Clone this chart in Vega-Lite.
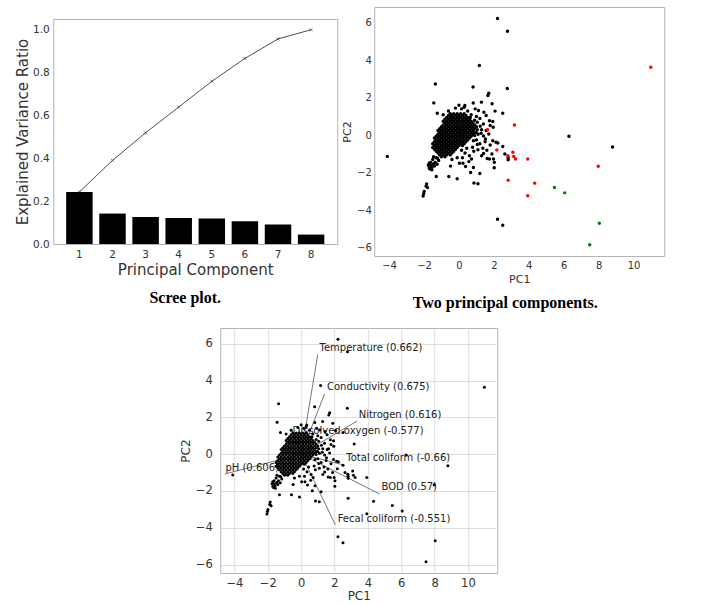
{
"$schema":"https://vega.github.io/schema/vega-lite/v6.json",
"background":"white",
"padding":{"left":15,"top":6,"right":5,"bottom":5},
"config":{
"font":"DejaVu Sans",
"view":{"stroke":"#b3b3b3","strokeWidth":1},
"axis":{"domain":false,"ticks":false,"grid":false,"labelColor":"#333333","titleColor":"#333333","titleFontWeight":"normal","labelFont":"DejaVu Sans","titleFont":"DejaVu Sans","labelOverlap":false},
"title":{"font":"Liberation Serif","fontWeight":"bold","fontSize":16,"color":"black"}
},
"datasets":{
"scree":[
{"pc":"1","ratio":0.243,"cum":0.243},{"pc":"2","ratio":0.142,"cum":0.390},{"pc":"3","ratio":0.126,"cum":0.519},{"pc":"4","ratio":0.121,"cum":0.639},
{"pc":"5","ratio":0.119,"cum":0.759},{"pc":"6","ratio":0.106,"cum":0.866},{"pc":"7","ratio":0.091,"cum":0.957},{"pc":"8","ratio":0.044,"cum":1.0}],
"load":[
{"label":"Temperature (0.662)","tx":1.0,"ty":5.42,"lx":1.1,"ly":5.78},
{"label":"Conductivity (0.675)","tx":1.41,"ty":3.29,"lx":1.55,"ly":3.66},
{"label":"Nitrogen (0.616)","tx":3.35,"ty":1.8,"lx":3.45,"ly":2.11},
{"label":"Dissolved oxygen (-0.577)","tx":-0.6,"ty":1.4,"lx":-0.52,"ly":1.25},
{"label":"Total coliform (-0.66)","tx":2.61,"ty":-0.6,"lx":2.71,"ly":-0.23},
{"label":"BOD (0.57)","tx":4.72,"ty":-2.17,"lx":4.82,"ly":-1.8},
{"label":"Fecal coliform (-0.551)","tx":2.05,"ty":-3.83,"lx":2.19,"ly":-3.52},
{"label":"pH (0.606)","tx":-4.58,"ty":-1.08,"lx":-4.54,"ly":-0.74}],
"pts":[
{"x":-0.5,"y":1.15,"c":"k"},{"x":-0.3,"y":1.15,"c":"k"},{"x":-0.1,"y":1.15,"c":"k"},{"x":0.1,"y":1.15,"c":"k"},{"x":0.3,"y":1.15,"c":"k"},
{"x":-0.6,"y":1.05,"c":"k"},{"x":-0.4,"y":1.05,"c":"k"},{"x":-0.2,"y":1.05,"c":"k"},{"x":0,"y":1.05,"c":"k"},{"x":0.2,"y":1.05,"c":"k"},{"x":0.4,"y":1.05,"c":"k"},
{"x":-0.7,"y":0.95,"c":"k"},{"x":-0.5,"y":0.95,"c":"k"},{"x":-0.3,"y":0.95,"c":"k"},{"x":-0.1,"y":0.95,"c":"k"},{"x":0.1,"y":0.95,"c":"k"},{"x":0.3,"y":0.95,"c":"k"},{"x":0.5,"y":0.95,"c":"k"},
{"x":-0.8,"y":0.85,"c":"k"},{"x":-0.6,"y":0.85,"c":"k"},{"x":-0.4,"y":0.85,"c":"k"},{"x":-0.2,"y":0.85,"c":"k"},{"x":0,"y":0.85,"c":"k"},{"x":0.2,"y":0.85,"c":"k"},{"x":0.4,"y":0.85,"c":"k"},{"x":0.6,"y":0.85,"c":"k"},
{"x":-0.9,"y":0.75,"c":"k"},{"x":-0.7,"y":0.75,"c":"k"},{"x":-0.5,"y":0.75,"c":"k"},{"x":-0.3,"y":0.75,"c":"k"},{"x":-0.1,"y":0.75,"c":"k"},{"x":0.1,"y":0.75,"c":"k"},{"x":0.3,"y":0.75,"c":"k"},{"x":0.5,"y":0.75,"c":"k"},{"x":0.7,"y":0.75,"c":"k"},
{"x":-0.8,"y":0.65,"c":"k"},{"x":-0.6,"y":0.65,"c":"k"},{"x":-0.4,"y":0.65,"c":"k"},{"x":-0.2,"y":0.65,"c":"k"},{"x":0,"y":0.65,"c":"k"},{"x":0.2,"y":0.65,"c":"k"},{"x":0.4,"y":0.65,"c":"k"},{"x":0.6,"y":0.65,"c":"k"},{"x":0.8,"y":0.65,"c":"k"},
{"x":-0.9,"y":0.55,"c":"k"},{"x":-0.7,"y":0.55,"c":"k"},{"x":-0.5,"y":0.55,"c":"k"},{"x":-0.3,"y":0.55,"c":"k"},{"x":-0.1,"y":0.55,"c":"k"},{"x":0.1,"y":0.55,"c":"k"},{"x":0.3,"y":0.55,"c":"k"},{"x":0.5,"y":0.55,"c":"k"},{"x":0.7,"y":0.55,"c":"k"},{"x":0.9,"y":0.55,"c":"k"},
{"x":-1.0,"y":0.45,"c":"k"},{"x":-0.8,"y":0.45,"c":"k"},{"x":-0.6,"y":0.45,"c":"k"},{"x":-0.4,"y":0.45,"c":"k"},{"x":-0.2,"y":0.45,"c":"k"},{"x":0,"y":0.45,"c":"k"},{"x":0.2,"y":0.45,"c":"k"},{"x":0.4,"y":0.45,"c":"k"},{"x":0.6,"y":0.45,"c":"k"},{"x":0.8,"y":0.45,"c":"k"},{"x":1.0,"y":0.45,"c":"k"},
{"x":-1.1,"y":0.35,"c":"k"},{"x":-0.9,"y":0.35,"c":"k"},{"x":-0.7,"y":0.35,"c":"k"},{"x":-0.5,"y":0.35,"c":"k"},{"x":-0.3,"y":0.35,"c":"k"},{"x":-0.1,"y":0.35,"c":"k"},{"x":0.1,"y":0.35,"c":"k"},{"x":0.3,"y":0.35,"c":"k"},{"x":0.5,"y":0.35,"c":"k"},{"x":0.7,"y":0.35,"c":"k"},{"x":0.9,"y":0.35,"c":"k"},
{"x":-1.2,"y":0.25,"c":"k"},{"x":-1.0,"y":0.25,"c":"k"},{"x":-0.8,"y":0.25,"c":"k"},{"x":-0.6,"y":0.25,"c":"k"},{"x":-0.4,"y":0.25,"c":"k"},{"x":-0.2,"y":0.25,"c":"k"},{"x":0,"y":0.25,"c":"k"},{"x":0.2,"y":0.25,"c":"k"},{"x":0.4,"y":0.25,"c":"k"},{"x":0.6,"y":0.25,"c":"k"},{"x":0.8,"y":0.25,"c":"k"},
{"x":-1.1,"y":0.15,"c":"k"},{"x":-0.9,"y":0.15,"c":"k"},{"x":-0.7,"y":0.15,"c":"k"},{"x":-0.5,"y":0.15,"c":"k"},{"x":-0.3,"y":0.15,"c":"k"},{"x":-0.1,"y":0.15,"c":"k"},{"x":0.1,"y":0.15,"c":"k"},{"x":0.3,"y":0.15,"c":"k"},{"x":0.5,"y":0.15,"c":"k"},{"x":0.7,"y":0.15,"c":"k"},{"x":0.9,"y":0.15,"c":"k"},
{"x":-1.2,"y":0.05,"c":"k"},{"x":-1.0,"y":0.05,"c":"k"},{"x":-0.8,"y":0.05,"c":"k"},{"x":-0.6,"y":0.05,"c":"k"},{"x":-0.4,"y":0.05,"c":"k"},{"x":-0.2,"y":0.05,"c":"k"},{"x":0,"y":0.05,"c":"k"},{"x":0.2,"y":0.05,"c":"k"},{"x":0.4,"y":0.05,"c":"k"},{"x":0.6,"y":0.05,"c":"k"},{"x":0.8,"y":0.05,"c":"k"},
{"x":-1.3,"y":-0.05,"c":"k"},{"x":-1.1,"y":-0.05,"c":"k"},{"x":-0.9,"y":-0.05,"c":"k"},{"x":-0.7,"y":-0.05,"c":"k"},{"x":-0.5,"y":-0.05,"c":"k"},{"x":-0.3,"y":-0.05,"c":"k"},{"x":-0.1,"y":-0.05,"c":"k"},{"x":0.1,"y":-0.05,"c":"k"},{"x":0.3,"y":-0.05,"c":"k"},{"x":0.5,"y":-0.05,"c":"k"},{"x":0.7,"y":-0.05,"c":"k"},
{"x":-1.4,"y":-0.15,"c":"k"},{"x":-1.2,"y":-0.15,"c":"k"},{"x":-1.0,"y":-0.15,"c":"k"},{"x":-0.8,"y":-0.15,"c":"k"},{"x":-0.6,"y":-0.15,"c":"k"},{"x":-0.4,"y":-0.15,"c":"k"},{"x":-0.2,"y":-0.15,"c":"k"},{"x":0,"y":-0.15,"c":"k"},{"x":0.2,"y":-0.15,"c":"k"},{"x":0.4,"y":-0.15,"c":"k"},{"x":0.6,"y":-0.15,"c":"k"},
{"x":-1.3,"y":-0.25,"c":"k"},{"x":-1.1,"y":-0.25,"c":"k"},{"x":-0.9,"y":-0.25,"c":"k"},{"x":-0.7,"y":-0.25,"c":"k"},{"x":-0.5,"y":-0.25,"c":"k"},{"x":-0.3,"y":-0.25,"c":"k"},{"x":-0.1,"y":-0.25,"c":"k"},{"x":0.1,"y":-0.25,"c":"k"},{"x":0.3,"y":-0.25,"c":"k"},{"x":0.5,"y":-0.25,"c":"k"},
{"x":-1.4,"y":-0.35,"c":"k"},{"x":-1.2,"y":-0.35,"c":"k"},{"x":-1.0,"y":-0.35,"c":"k"},{"x":-0.8,"y":-0.35,"c":"k"},{"x":-0.6,"y":-0.35,"c":"k"},{"x":-0.4,"y":-0.35,"c":"k"},{"x":-0.2,"y":-0.35,"c":"k"},{"x":0,"y":-0.35,"c":"k"},{"x":0.2,"y":-0.35,"c":"k"},{"x":0.4,"y":-0.35,"c":"k"},
{"x":-1.5,"y":-0.45,"c":"k"},{"x":-1.3,"y":-0.45,"c":"k"},{"x":-1.1,"y":-0.45,"c":"k"},{"x":-0.9,"y":-0.45,"c":"k"},{"x":-0.7,"y":-0.45,"c":"k"},{"x":-0.5,"y":-0.45,"c":"k"},{"x":-0.3,"y":-0.45,"c":"k"},{"x":-0.1,"y":-0.45,"c":"k"},{"x":0.1,"y":-0.45,"c":"k"},{"x":0.3,"y":-0.45,"c":"k"},
{"x":-1.4,"y":-0.55,"c":"k"},{"x":-1.2,"y":-0.55,"c":"k"},{"x":-1.0,"y":-0.55,"c":"k"},{"x":-0.8,"y":-0.55,"c":"k"},{"x":-0.6,"y":-0.55,"c":"k"},{"x":-0.4,"y":-0.55,"c":"k"},{"x":-0.2,"y":-0.55,"c":"k"},{"x":0,"y":-0.55,"c":"k"},{"x":0.2,"y":-0.55,"c":"k"},
{"x":-1.5,"y":-0.65,"c":"k"},{"x":-1.3,"y":-0.65,"c":"k"},{"x":-1.1,"y":-0.65,"c":"k"},{"x":-0.9,"y":-0.65,"c":"k"},{"x":-0.7,"y":-0.65,"c":"k"},{"x":-0.5,"y":-0.65,"c":"k"},{"x":-0.3,"y":-0.65,"c":"k"},{"x":-0.1,"y":-0.65,"c":"k"},
{"x":-1.4,"y":-0.75,"c":"k"},{"x":-1.2,"y":-0.75,"c":"k"},{"x":-1.0,"y":-0.75,"c":"k"},{"x":-0.8,"y":-0.75,"c":"k"},{"x":-0.6,"y":-0.75,"c":"k"},{"x":-0.4,"y":-0.75,"c":"k"},{"x":-0.2,"y":-0.75,"c":"k"},
{"x":-1.3,"y":-0.85,"c":"k"},{"x":-1.1,"y":-0.85,"c":"k"},{"x":-0.9,"y":-0.85,"c":"k"},{"x":-0.7,"y":-0.85,"c":"k"},{"x":-0.5,"y":-0.85,"c":"k"},{"x":-0.3,"y":-0.85,"c":"k"},
{"x":-1.2,"y":-0.95,"c":"k"},{"x":-1.0,"y":-0.95,"c":"k"},{"x":-0.8,"y":-0.95,"c":"k"},{"x":-0.6,"y":-0.95,"c":"k"},{"x":-0.4,"y":-0.95,"c":"k"},
{"x":-1.1,"y":-1.05,"c":"k"},{"x":-0.9,"y":-1.05,"c":"k"},{"x":-0.7,"y":-1.05,"c":"k"},{"x":-0.5,"y":-1.05,"c":"k"},
{"x":-1.0,"y":-1.15,"c":"k"},{"x":-0.8,"y":-1.15,"c":"k"},
{"x":1.2,"y":0.9,"c":"k"},{"x":1.4,"y":0.6,"c":"k"},{"x":1.3,"y":0.3,"c":"k"},{"x":1.1,"y":0.05,"c":"k"},{"x":1.5,"y":-0.35,"c":"k"},{"x":1.2,"y":-0.45,"c":"k"},{"x":1.0,"y":-0.25,"c":"k"},{"x":0.9,"y":0.8,"c":"k"},{"x":1.0,"y":1.0,"c":"k"},{"x":0.7,"y":1.1,"c":"k"},{"x":0.5,"y":1.3,"c":"k"},{"x":0.65,"y":0.95,"c":"k"},{"x":0.3,"y":1.5,"c":"k"},{"x":-0.2,"y":1.45,"c":"k"},{"x":-0.6,"y":1.3,"c":"k"},{"x":0.0,"y":1.6,"c":"k"},{"x":-0.9,"y":1.1,"c":"k"},{"x":1.05,"y":0.3,"c":"k"},{"x":1.05,"y":-0.5,"c":"k"},{"x":0.85,"y":-0.85,"c":"k"},{"x":0.6,"y":-1.1,"c":"k"},{"x":0.35,"y":-0.95,"c":"k"},{"x":0.15,"y":-0.8,"c":"k"},{"x":0.45,"y":-0.7,"c":"k"},{"x":-0.1,"y":-1.2,"c":"k"},{"x":0.2,"y":-1.2,"c":"k"},{"x":-0.4,"y":-1.3,"c":"k"},{"x":1.3,"y":-1.1,"c":"k"},{"x":1.6,"y":-0.8,"c":"k"},
{"x":1.71,"y":2.25,"c":"k"},{"x":1.66,"y":2.13,"c":"k"},{"x":1.29,"y":1.77,"c":"k"},{"x":1.9,"y":1.68,"c":"k"},{"x":0.82,"y":1.72,"c":"k"},{"x":0.34,"y":1.59,"c":"k"},{"x":0.15,"y":1.41,"c":"k"},{"x":0.93,"y":1.41,"c":"k"},{"x":1.12,"y":1.32,"c":"k"},{"x":1.43,"y":1.23,"c":"k"},{"x":1.56,"y":1.05,"c":"k"},{"x":2.07,"y":1.29,"c":"k"},{"x":2.51,"y":1.18,"c":"k"},{"x":1.75,"y":0.78,"c":"k"},{"x":1.94,"y":0.73,"c":"k"},{"x":1.79,"y":0.52,"c":"k"},{"x":1.96,"y":0.43,"c":"k"},{"x":1.05,"y":0.7,"c":"k"},{"x":1.22,"y":0.48,"c":"k"},{"x":0.99,"y":0.15,"c":"k"},{"x":1.27,"y":0.11,"c":"k"},{"x":1.41,"y":-0.04,"c":"k"},{"x":1.56,"y":0.25,"c":"k"},{"x":1.52,"y":-0.2,"c":"k"},{"x":0.9,"y":-0.02,"c":"k"},{"x":0.83,"y":-0.29,"c":"k"},{"x":0.78,"y":-0.64,"c":"k"},{"x":1.37,"y":-0.7,"c":"k"},{"x":1.79,"y":-0.52,"c":"k"},{"x":1.94,"y":-0.29,"c":"k"},{"x":1.71,"y":0.07,"c":"k"},{"x":2.13,"y":-0.38,"c":"k"},
{"x":2.21,"y":6.24,"c":"k"},{"x":2.78,"y":5.56,"c":"k"},{"x":1.17,"y":3.73,"c":"k"},{"x":-1.35,"y":2.74,"c":"k"},{"x":0.81,"y":2.58,"c":"k"},{"x":2.77,"y":2.5,"c":"k"},{"x":-1.44,"y":1.73,"c":"k"},{"x":-1.24,"y":1.18,"c":"k"},{"x":-4.1,"y":-1.13,"c":"k"},{"x":6.3,"y":-0.05,"c":"k"},{"x":8.8,"y":-0.63,"c":"k"},{"x":2.21,"y":-4.49,"c":"k"},{"x":2.51,"y":-4.81,"c":"k"},
{"x":-1.3,"y":-2.21,"c":"k"},{"x":-0.58,"y":-2.2,"c":"k"},{"x":-0.1,"y":-2.32,"c":"k"},{"x":-0.48,"y":-1.65,"c":"k"},{"x":0.03,"y":-1.5,"c":"k"},{"x":0.23,"y":-1.5,"c":"k"},{"x":0.57,"y":-1.41,"c":"k"},{"x":0.38,"y":-1.67,"c":"k"},{"x":0.83,"y":-1.72,"c":"k"},{"x":0.67,"y":-1.99,"c":"k"},{"x":0.86,"y":-2.55,"c":"k"},{"x":1.09,"y":-2.59,"c":"k"},{"x":1.2,"y":-2.04,"c":"k"},{"x":2.02,"y":-1.74,"c":"k"},{"x":1.75,"y":-1.27,"c":"k"},{"x":1.89,"y":-1.0,"c":"k"},{"x":1.98,"y":-1.27,"c":"k"},{"x":2.03,"y":-1.45,"c":"k"},{"x":2.23,"y":-0.41,"c":"k"},{"x":2.51,"y":-0.6,"c":"k"},{"x":2.63,"y":-1.0,"c":"k"},{"x":2.82,"y":-1.31,"c":"k"},{"x":2.82,"y":-1.2,"c":"k"},{"x":1.09,"y":-0.77,"c":"k"},{"x":1.41,"y":-0.97,"c":"k"},{"x":1.62,"y":-1.24,"c":"k"},{"x":0.72,"y":-1.27,"c":"k"},
{"x":-2.05,"y":-3.25,"c":"k"},{"x":-2.02,"y":-3.12,"c":"k"},{"x":-1.99,"y":-3.0,"c":"k"},{"x":-1.88,"y":-2.72,"c":"k"},{"x":-1.85,"y":-2.6,"c":"k"},{"x":-1.8,"y":-2.8,"c":"k"},
{"x":-1.66,"y":-1.81,"c":"k"},{"x":-1.56,"y":-1.72,"c":"k"},{"x":-1.46,"y":-1.54,"c":"k"},{"x":-1.6,"y":-1.62,"c":"k"},{"x":-1.36,"y":-1.45,"c":"k"},{"x":-1.16,"y":-1.35,"c":"k"},{"x":-1.22,"y":-1.23,"c":"k"},{"x":-1.7,"y":-1.75,"c":"k"},{"x":-1.5,"y":-1.3,"c":"k"},{"x":-1.3,"y":-1.2,"c":"k"},{"x":-1.45,"y":-1.15,"c":"k"},{"x":-1.62,"y":-1.45,"c":"k"},{"x":-1.75,"y":-1.6,"c":"k"},{"x":-1.4,"y":-1.65,"c":"k"},{"x":-1.25,"y":-1.55,"c":"k"},{"x":-1.55,"y":-1.85,"c":"k"},{"x":-1.7,"y":-1.5,"c":"k"},
{"x":10.99,"y":3.63,"c":"r"},{"x":7.98,"y":-1.66,"c":"r"},{"x":3.94,"y":-1.27,"c":"r"},{"x":3.18,"y":0.55,"c":"r"},{"x":1.64,"y":0.29,"c":"r"},{"x":2.17,"y":-0.79,"c":"r"},{"x":2.8,"y":-1.09,"c":"r"},{"x":3.09,"y":-0.91,"c":"r"},{"x":3.14,"y":-1.14,"c":"r"},{"x":3.24,"y":-1.27,"c":"r"},{"x":2.82,"y":-2.4,"c":"r"},{"x":4.34,"y":-2.56,"c":"r"},{"x":3.94,"y":-3.24,"c":"r"},
{"x":5.47,"y":-2.79,"c":"g"},{"x":6.06,"y":-3.08,"c":"g"},{"x":8.04,"y":-4.7,"c":"g"},{"x":7.49,"y":-5.85,"c":"g"}
]
},
"center":true,
"spacing":15,
"vconcat":[
{"hconcat":[
{"width":284,"height":225,
"title":{"text":"Scree plot.","orient":"bottom","anchor":"middle","offset":12,"dx":-10},
"data":{"name":"scree"},
"encoding":{"x":{"field":"pc","type":"ordinal","scale":{"paddingInner":0.2,"paddingOuter":0.39},"axis":{"title":"Principal Component","labelAngle":0,"labelFontSize":10.5,"titleFontSize":15,"labelPadding":5,"titlePadding":3}}},
"layer":[
{"mark":{"type":"bar","color":"black"},"encoding":{"y":{"field":"ratio","type":"quantitative","scale":{"domain":[0,1.05],"nice":false,"zero":true},"axis":{"title":"Explained Variance Ratio","values":[0,0.2,0.4,0.6,0.8,1.0],"format":".1f","labelFontSize":10.5,"titleFontSize":15,"labelPadding":4,"titlePadding":2}}}},
{"mark":{"type":"line","color":"#222222","strokeWidth":0.8},"encoding":{"y":{"field":"cum","type":"quantitative"}}},
{"mark":{"type":"point","shape":"M-1,-1L1,1M-1,1L1,-1","size":9,"color":"#222222","strokeWidth":0.8,"filled":false},"encoding":{"y":{"field":"cum","type":"quantitative"}}}
]},
{"width":290,"height":249,
"title":{"text":"Two principal components.","orient":"bottom","anchor":"middle","offset":11,"dx":-14},
"data":{"name":"pts"},
"mark":{"type":"circle","size":12,"opacity":1},
"encoding":{
"x":{"field":"x","type":"quantitative","scale":{"domain":[-4.85,11.76],"nice":false,"zero":false},"axis":{"title":"PC1","values":[-4,-2,0,2,4,6,8,10],"format":"d","labelFontSize":10,"titleFontSize":11,"labelPadding":4,"titlePadding":3,"labelOverlap":false}},
"y":{"field":"y","type":"quantitative","scale":{"domain":[-6.455,6.855],"nice":false,"zero":false},"axis":{"title":"PC2","values":[-6,-4,-2,0,2,4,6],"format":"d","labelFontSize":10,"titleFontSize":11,"labelPadding":3,"titlePadding":4,"labelOverlap":false}},
"color":{"field":"c","type":"nominal","scale":{"domain":["k","r","g"],"range":["black","#ff0000","#008000"]},"legend":null}
}}
],"spacing":37,"bounds":"flush","center":true},
{"width":277,"height":245,
"encoding":{
"x":{"type":"quantitative","scale":{"domain":[-4.85,11.76],"nice":false,"zero":false},"axis":{"title":"PC1","values":[-4,-2,0,2,4,6,8,10],"format":"d","grid":true,"gridColor":"#dddddd","labelFontSize":11.5,"titleFontSize":12,"labelPadding":4,"titlePadding":2,"labelOverlap":false}},
"y":{"type":"quantitative","scale":{"domain":[-6.455,6.855],"nice":false,"zero":false},"axis":{"title":"PC2","values":[-6,-4,-2,0,2,4,6],"format":"d","grid":true,"gridColor":"#dddddd","labelFontSize":11.5,"titleFontSize":12,"labelPadding":8,"titlePadding":3,"labelOverlap":false}}
},
"layer":[
{"data":{"name":"load"},"mark":{"type":"rule","color":"#555555","strokeWidth":0.8},
"encoding":{"x":{"field":"tx","type":"quantitative"},"y":{"field":"ty","type":"quantitative"},"x2":{"datum":0},"y2":{"datum":0}}},
{"data":{"name":"load"},"mark":{"type":"text","align":"left","baseline":"middle","fontSize":10,"color":"#222222","font":"DejaVu Sans"},
"encoding":{"x":{"field":"lx","type":"quantitative"},"y":{"field":"ly","type":"quantitative"},"text":{"field":"label"}}},
{"data":{"name":"pts"},"mark":{"type":"circle","size":9,"color":"black","opacity":1},
"encoding":{"x":{"field":"x","type":"quantitative"},"y":{"field":"y","type":"quantitative"}}}
]}
]
}
